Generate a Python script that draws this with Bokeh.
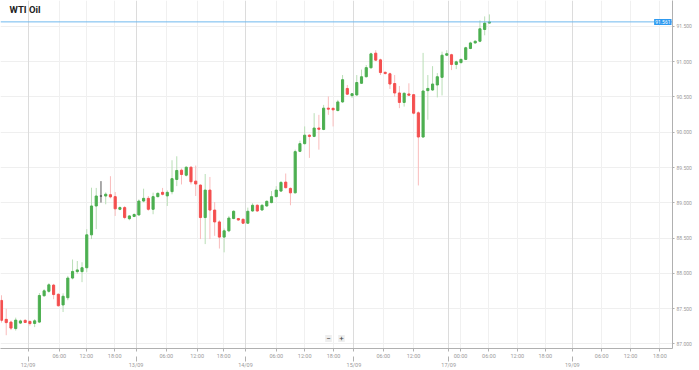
from bokeh.plotting import figure
from bokeh.models import (Range1d, FixedTicker, LinearAxis, Grid, Span, Label,
                          ColumnDataSource, NumeralTickFormatter)
from bokeh.embed import file_html
from bokeh.resources import INLINE

title_text = "WTI Oil"

open_ = [87.617, 87.349, 87.310, 87.218, 87.296, 87.334, 87.320, 87.291, 87.310, 87.683,
         87.746, 87.834, 87.704, 87.553, 87.655, 87.934, 88.025, 88.025, 88.080, 88.546,
         88.955, 89.096, 89.096, 89.115, 89.087, 88.908, 88.932, 88.775, 88.807, 88.828,
         89.025, 89.063, 88.908, 89.087, 89.148, 89.098, 89.158, 89.331, 89.462, 89.391,
         89.504, 89.307, 89.251, 88.791, 89.180, 88.897, 88.729, 88.514, 88.603, 88.777,
         88.777, 88.767, 88.711, 88.884, 88.965, 88.898, 88.955, 89.003, 89.087, 89.166,
         89.293, 89.204, 89.141, 89.729, 89.838, 89.958, 89.941, 90.059, 90.039, 90.341,
         90.338, 90.307, 90.429, 90.620, 90.518, 90.528, 90.693, 90.786, 90.913, 91.120,
         91.025, 90.849, 90.828, 90.690, 90.556, 90.422, 90.542, 90.532, 90.275, 89.932,
         90.589, 90.598, 90.669, 90.777, 91.091, 91.098, 90.960, 90.986, 91.031, 91.186,
         91.265, 91.289, 91.455, 91.546]
high = [87.690, 87.500, 87.331, 87.373, 87.345, 87.352, 87.331, 87.352, 87.721, 87.777,
        87.862, 87.852, 87.718, 87.718, 87.965, 88.197, 88.176, 88.158, 88.627, 89.214,
        89.211, 89.307, 89.148, 89.377, 89.152, 88.950, 88.955, 88.824, 88.852, 89.049,
        89.200, 89.096, 89.144, 89.148, 89.211, 89.176, 89.603, 89.659, 89.486, 89.518,
        89.518, 89.528, 89.260, 89.408, 89.366, 89.011, 88.753, 88.636, 88.814, 88.894,
        88.786, 88.775, 88.932, 88.993, 88.979, 88.979, 89.035, 89.166, 89.236, 89.307,
        89.415, 89.218, 89.753, 89.880, 90.082, 89.972, 90.270, 90.246, 90.387, 90.507,
        90.352, 90.458, 90.810, 90.669, 90.556, 90.810, 90.887, 90.951, 91.127, 91.162,
        91.042, 90.859, 90.845, 90.810, 90.655, 90.563, 90.693, 90.542, 90.296, 91.124,
        90.810, 90.936, 90.838, 91.141, 91.162, 91.112, 91.014, 91.042, 91.211, 91.282,
        91.303, 91.584, 91.641, 91.669]
low = [87.303, 87.124, 87.197, 87.190, 87.282, 87.296, 87.260, 87.239, 87.296, 87.669,
       87.725, 87.634, 87.528, 87.453, 87.620, 87.915, 87.993, 87.876, 88.017, 88.486,
       88.627, 89.003, 88.979, 89.063, 88.814, 88.894, 88.767, 88.753, 88.796, 88.817,
       89.007, 88.887, 88.838, 89.077, 89.105, 88.955, 89.120, 89.236, 89.260, 89.373,
       89.260, 89.096, 88.486, 88.415, 88.486, 88.532, 88.352, 88.298, 88.584, 88.767,
       88.746, 88.701, 88.701, 88.873, 88.873, 88.887, 88.944, 88.993, 89.077, 89.155,
       89.204, 88.965, 89.134, 89.718, 89.824, 89.636, 89.929, 89.753, 90.028, 90.246,
       90.082, 90.296, 90.415, 90.528, 90.486, 90.514, 90.683, 90.775, 90.901, 91.007,
       90.810, 90.817, 90.613, 90.504, 90.341, 90.363, 90.514, 90.253, 89.246, 89.922,
       90.176, 90.584, 90.493, 90.521, 91.077, 90.880, 90.894, 90.972, 91.021, 91.176,
       91.253, 91.275, 91.373, 91.542]
close = [87.335, 87.303, 87.225, 87.338, 87.327, 87.305, 87.289, 87.328, 87.687, 87.753,
         87.838, 87.700, 87.542, 87.676, 87.934, 88.028, 88.049, 88.080, 88.546, 88.955,
         89.096, 89.096, 89.122, 89.084, 88.915, 88.932, 88.791, 88.814, 88.834, 89.025,
         89.063, 88.908, 89.087, 89.134, 89.120, 89.148, 89.342, 89.458, 89.401, 89.504,
         89.298, 89.267, 88.791, 89.180, 88.897, 88.729, 88.514, 88.603, 88.784, 88.880,
         88.756, 88.711, 88.880, 88.965, 88.884, 88.965, 89.021, 89.087, 89.180, 89.289,
         89.214, 89.141, 89.725, 89.838, 89.958, 89.941, 90.059, 90.042, 90.341, 90.327,
         90.317, 90.429, 90.744, 90.539, 90.545, 90.704, 90.786, 90.915, 91.110, 91.021,
         90.845, 90.831, 90.683, 90.556, 90.422, 90.552, 90.524, 90.270, 89.932, 90.584,
         90.620, 90.683, 90.786, 91.091, 91.112, 90.960, 90.997, 91.032, 91.197, 91.265,
         91.289, 91.465, 91.546, 91.563]

price_ticks = [87.0, 87.5, 88.0, 88.5, 89.0, 89.5, 90.0, 90.5, 91.0, 91.5]

date_pos = [5.6, 28.4, 51.5, 74.4, 94.4, 120.5]
date_lab = ["12/09", "13/09", "14/09", "15/09", "17/09", "19/09"]
hour_pos = [12.2, 17.9, 23.9, 34.8, 41.3, 46.9, 58.0, 64.0, 70.1, 80.6, 87.0,
            96.9, 102.9, 108.9, 114.8, 126.7, 132.8, 139.0]
hour_lab = ["06:00", "12:00", "18:00", "06:00", "12:00", "18:00", "06:00", "12:00", "18:00",
            "06:00", "12:00", "00:00", "06:00", "12:00", "18:00", "06:00", "12:00", "18:00"]

last_price_text = "91.561"

GREEN = "#4caf50"
RED = "#f44f4f"
GRAY = "#555555"
GREEN_W = "#b9deb6"
RED_W = "#f9bcbc"

idx = list(range(len(open_)))
body_col, wick_col, top, bot = [], [], [], []
for o, c in zip(open_, close):
    if c > o:
        body_col.append(GREEN); wick_col.append(GREEN_W)
    elif c < o:
        body_col.append(RED); wick_col.append(RED_W)
    else:
        body_col.append(GRAY); wick_col.append(GRAY)
    top.append(max(o, c)); bot.append(min(o, c))

src = ColumnDataSource(dict(x=idx, o=open_, h=high, l=low, c=close, top=top, bot=bot,
                            bc=body_col, wc=wick_col))

W, H = 699, 370
FRAME_W, FRAME_H = 672, 350
Y0, Y1 = 86.936, 91.866
p = figure(width=W, height=H, output_backend="svg", toolbar_location=None,
           x_range=Range1d(-0.21, 141.65), y_range=Range1d(Y0, Y1),
           x_axis_location=None, y_axis_location="right",
           min_border_left=0, min_border_top=0,
           min_border_right=W - FRAME_W, min_border_bottom=H - FRAME_H,
           background_fill_color="white", border_fill_color="white")
p.outline_line_color = None

# grids
p.xgrid.visible = False
p.ygrid.ticker = FixedTicker(ticks=price_ticks)
p.ygrid.grid_line_color = "#efefef"
hour_grid = Grid(dimension=0, ticker=FixedTicker(ticks=hour_pos), grid_line_color="#f0f0f0")
date_grid = Grid(dimension=0, ticker=FixedTicker(ticks=date_pos), grid_line_color="#dcdcdc")
p.add_layout(hour_grid)
p.add_layout(date_grid)

# right axis
ya = p.yaxis[0]
ya.ticker = FixedTicker(ticks=price_ticks)
ya.formatter = NumeralTickFormatter(format="0.000")
ya.axis_line_color = "#b0b0b0"
ya.major_tick_line_color = "#b0b0b0"
ya.major_tick_out = 2
ya.major_tick_in = 0
ya.minor_tick_line_color = None
ya.major_label_standoff = 2
ya.major_label_text_font = "Roboto"
ya.major_label_text_font_size = "5px"
ya.major_label_text_color = "#9a9a9a"

# bottom axes
overrides = {pos: lab for pos, lab in zip(hour_pos, hour_lab)}
overrides.update({pos: "" for pos in date_pos})
xa = LinearAxis(ticker=FixedTicker(ticks=sorted(hour_pos + date_pos)),
                major_label_overrides=overrides)
xa.axis_line_color = "#b0b0b0"
xa.major_tick_line_color = "#b0b0b0"
xa.major_tick_out = 3
xa.major_tick_in = 0
xa.minor_tick_line_color = None
xa.major_label_standoff = 1
xa.major_label_text_font = "Roboto"
xa.major_label_text_font_size = "5.5px"
xa.major_label_text_color = "#9a9a9a"
p.add_layout(xa, "below")

xd = LinearAxis(ticker=FixedTicker(ticks=date_pos),
                major_label_overrides={pos: lab for pos, lab in zip(date_pos, date_lab)})
xd.axis_line_color = None
xd.major_tick_line_color = "#b0b0b0"
xd.major_tick_out = 0
xd.major_tick_in = 5
xd.minor_tick_line_color = None
xd.major_label_standoff = 0
xd.major_label_text_font = "Roboto"
xd.major_label_text_font_size = "5.5px"
xd.major_label_text_color = "#9a9a9a"
p.add_layout(xd, "below")

# candles
p.segment(x0="x", y0="h", x1="x", y1="l", color="wc", line_width=1, source=src)
p.vbar(x="x", width=0.45, top="top", bottom="bot", fill_color="bc", line_color="bc",
       line_width=1, source=src)

# last price line and its label (kept at the frame's right edge, where it can be drawn)
p.add_layout(Span(location=close[-1], dimension="width", line_color="#6fb8ee", line_width=1))
p.add_layout(Label(x=FRAME_W - 1, y=close[-1], x_units="screen", y_units="data",
                   text=last_price_text, text_font="Roboto", text_font_size="5px",
                   text_color="white", text_baseline="middle", text_align="right",
                   background_fill_color="#2e9af0", padding=1))

# title
p.add_layout(Label(x=9, y=FRAME_H - 11, x_units="screen", y_units="screen", text=title_text,
                   text_font="Roboto", text_font_size="9.5px", text_font_style="bold",
                   text_color="#222222", text_baseline="middle", text_align="left"))

# zoom buttons
p.add_layout(Label(x=328, y=10, x_units="screen", y_units="screen", text="\u2212",
                   text_font="Roboto", text_font_size="8px", text_color="#444444",
                   text_baseline="middle", text_align="center",
                   background_fill_color="#eeeeee", padding=1))
p.add_layout(Label(x=341, y=10, x_units="screen", y_units="screen", text="+",
                   text_font="Roboto", text_font_size="8px", text_color="#444444",
                   text_baseline="middle", text_align="center",
                   background_fill_color="#eeeeee", padding=1))

open("out.html", "w").write(file_html(p, INLINE))
